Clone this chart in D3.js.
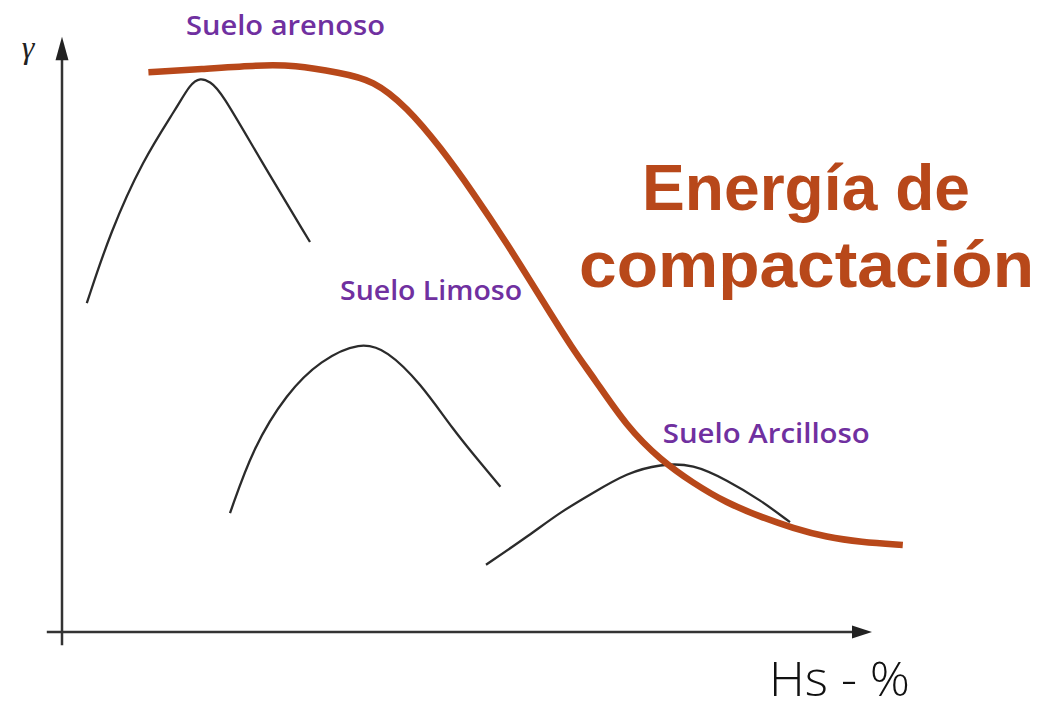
<!DOCTYPE html>
<html>
<head>
<meta charset="utf-8">
<script src="https://cdn.jsdelivr.net/npm/d3@7"></script>
<style>
  body { margin: 0; background: #fff; }
</style>
</head>
<body>
<div id="container"></div>
<script>
const canvasWidth = 1043;
const canvasHeight = 705;

// humedad (x) y peso unitario (y), unidades arbitrarias 0-100
let arenosoX = [3.1, 6, 10.1, 14.4, 16, 17.3, 18.5, 19.8, 24.8, 31];
let arenosoY = [54.8, 66.5, 78.7, 87.5, 91.3, 92.4, 91.7, 90.3, 78.7, 65];

let limosoX = [21, 23.9, 28.1, 32.3, 37.3, 40.6, 44.8, 48.9, 52.3, 54.8];
let limosoY = [19.8, 30.8, 39.8, 45.3, 48.4, 47, 41.5, 33.7, 28.2, 24.2];

let arcillosoX = [53, 58.5, 62.3, 66.4, 70.6, 74.8, 78.9, 83.1, 87.3, 91];
let arcillosoY = [11.2, 16.2, 20, 23.2, 26.5, 28, 28, 25.3, 22, 18.3];

let energiaX = [10.8, 17.3, 24.8, 28.9, 34.8, 38.9, 43.1, 47.3, 51.4, 55.6, 59.8, 63.9, 66.4, 70.6, 74.8, 78.9, 83.1, 87.3, 91.4, 95.6, 99.8, 105.1];
let energiaY = [93.3, 93.8, 94.5, 94.5, 93.2, 92, 87.5, 80.8, 73.2, 64.8, 55.8, 47, 42.5, 34.2, 28.7, 24.8, 21.5, 19.2, 17.3, 15.8, 15, 14.5];

let labels = ['Suelo arenoso', 'Suelo Limoso', 'Suelo Arcilloso'];
let labelX = [15.5, 34.75, 75.1];
let labelY = [99.5, 55.3, 31.5];

let titleLines = ['Energía de', 'compactación'];

let purple = '#7030a0';
let orange = '#b8481a';

let svg = d3.select('#container')
  .append('svg')
  .attr('width', canvasWidth)
  .attr('height', canvasHeight);

let xScale = d3.scaleLinear().domain([0, 100]).range([62, 862]);
let yScale = d3.scaleLinear().domain([0, 100]).range([632, 32]);

// axes
svg.append('line')
  .attr('x1', xScale(0)).attr('y1', yScale(-2.2))
  .attr('x2', xScale(0)).attr('y2', yScale(96))
  .style('stroke', '#333').style('stroke-width', 2.5);

svg.append('line')
  .attr('x1', xScale(-1.9)).attr('y1', yScale(0))
  .attr('x2', xScale(99)).attr('y2', yScale(0))
  .style('stroke', '#333').style('stroke-width', 2.5);

// arrow heads
svg.append('path')
  .attr('d', 'M' + (xScale(0) - 6.5) + ',' + yScale(95.3) + ' L' + xScale(0) + ',' + yScale(99.2) + ' L' + (xScale(0) + 6.5) + ',' + yScale(95.3) + ' Z')
  .style('fill', '#222');
svg.append('path')
  .attr('d', 'M' + xScale(98.75) + ',' + (yScale(0) - 6.5) + ' L' + xScale(101.25) + ',' + yScale(0) + ' L' + xScale(98.75) + ',' + (yScale(0) + 6.5) + ' Z')
  .style('fill', '#222');

function toPoints(xs, ys) {
  return xs.map(function(d, i) { return [d, ys[i]]; });
}

let line = d3.line()
  .x(function(d) { return xScale(d[0]); })
  .y(function(d) { return yScale(d[1]); })
  .curve(d3.curveBasis);

let soils = [toPoints(arenosoX, arenosoY), toPoints(limosoX, limosoY), toPoints(arcillosoX, arcillosoY)];

svg.selectAll('.soil').data(soils).enter()
  .append('path')
  .attr('class', 'soil')
  .attr('d', line)
  .style('fill', 'none')
  .style('stroke', '#2b2b2b')
  .style('stroke-width', 2.3);

svg.append('path')
  .attr('d', line(toPoints(energiaX, energiaY)))
  .style('fill', 'none')
  .style('stroke', orange)
  .style('stroke-width', 6.5);

// soil labels
let labelW = [199, 182, 207];
svg.selectAll('.label').data(labels).enter()
  .append('text')
  .attr('class', 'label')
  .attr('x', function(d, i) { return xScale(labelX[i]); })
  .attr('y', function(d, i) { return yScale(labelY[i]); })
  .attr('textLength', function(d, i) { return labelW[i]; })
  .attr('lengthAdjust', 'spacingAndGlyphs')
  .style('font-family', '"Open Sans", sans-serif')
  .style('font-weight', 600)
  .style('font-size', '27px')
  .style('fill', purple)
  .text(function(d) { return d; });

// title
let titleLeft = [642, 579];
let titleW = [328, 455];
svg.selectAll('.title').data(titleLines).enter()
  .append('text')
  .attr('class', 'title')
  .attr('x', function(d, i) { return titleLeft[i]; })
  .attr('y', function(d, i) { return 210 + i * 77; })
  .attr('textLength', function(d, i) { return titleW[i]; })
  .attr('lengthAdjust', 'spacingAndGlyphs')
  .style('font-family', '"Liberation Sans", Arial, sans-serif')
  .style('font-weight', 'bold')
  .style('font-size', '64px')
  .style('fill', orange)
  .text(function(d) { return d; });

// axis titles
svg.append('text')
  .attr('x', 28)
  .attr('y', 58)
  .attr('text-anchor', 'middle')
  .style('font-family', '"Liberation Serif", serif')
  .style('font-style', 'italic')
  .style('font-size', '32px')
  .style('fill', '#222')
  .text('γ');

svg.append('text')
  .attr('x', 769)
  .attr('y', 696)
  .attr('textLength', 141)
  .attr('lengthAdjust', 'spacingAndGlyphs')
  .style('font-family', '"Open Sans", sans-serif')
  .style('font-weight', 300)
  .style('font-size', '48px')
  .style('fill', '#111')
  .text('Hs - %');
</script>
</body>
</html>
